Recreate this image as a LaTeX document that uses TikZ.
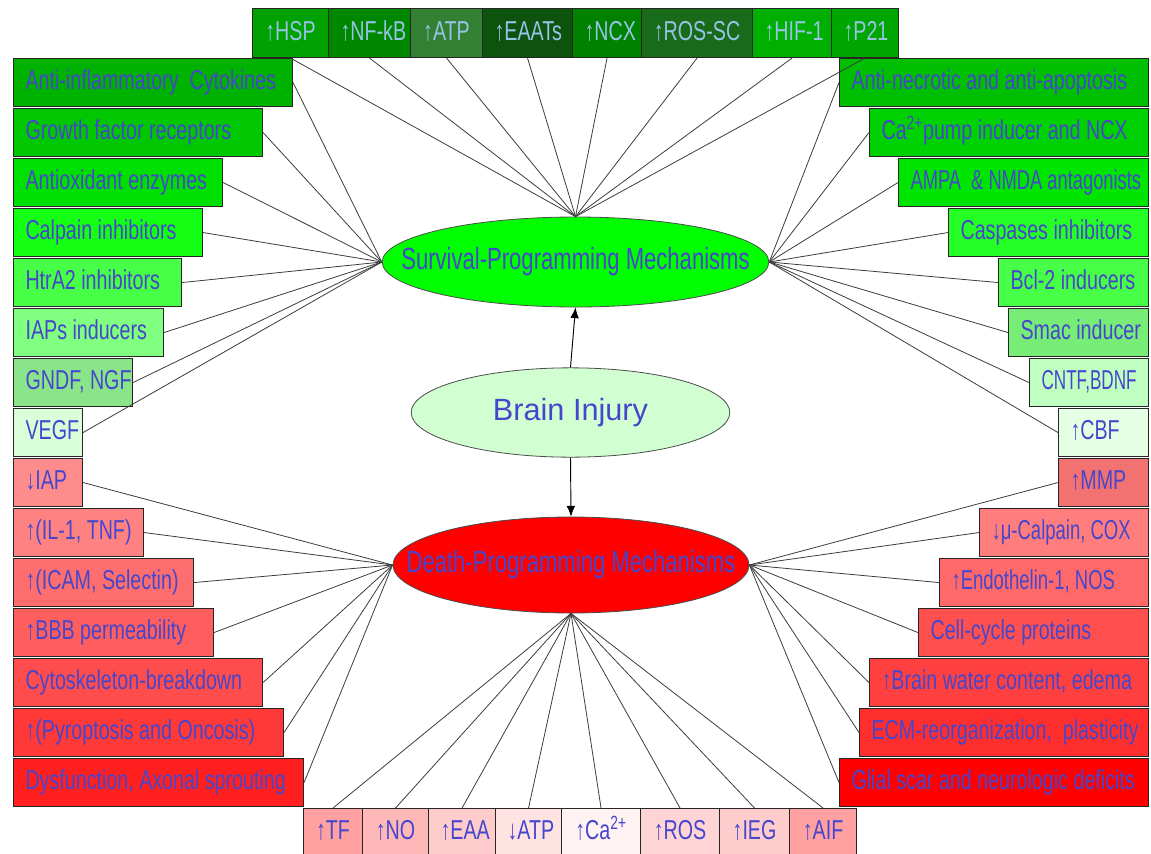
\documentclass[tikz,border=0pt]{standalone}
\usepackage{graphicx}
\usepackage{fontspec}
\setmainfont{Liberation Sans}
\newfontfamily\narrowfont{Liberation Sans}[FakeStretch=0.72]
\usetikzlibrary{shapes.geometric,arrows.meta}

\definecolor{txtblue}{RGB}{70,70,205}
\definecolor{topblue}{RGB}{150,195,230}
\definecolor{spokegray}{RGB}{60,60,60}

\tikzset{
  item/.style={draw=black!85, line width=0.8pt, anchor=north west,
    inner xsep=9pt, inner ysep=0pt, text height=15pt, text depth=4pt,
    font=\narrowfont\fontsize{20.5}{22}\selectfont, text=txtblue},
  mech/.style={ellipse, draw=black!70, line width=0.6pt, inner sep=0pt,
    font=\narrowfont\fontsize{23}{25}\selectfont, text=txtblue},
  spoke/.style={draw=spokegray, line width=0.6pt},
  cause/.style={draw=black, line width=0.7pt, -{Latex[length=8pt,width=6.5pt]}},
}

% narrower setting for capital-heavy labels
\newcommand{\sq}[2]{\scalebox{#1}[1]{#2}}

% box from top-left (#3,#4) to bottom-right (#5,#6), pixel units
\newcommand{\itembox}[8][left]{%
  \pgfmathsetmacro{\bw}{((#5)-(#3))*0.75}%
  \pgfmathsetmacro{\bh}{((#6)-(#4))*0.75}%
  \pgfmathsetmacro{\tw}{((#5)-(#3))*0.75-18}%
  \node[item, fill=#7, align=#1, text width=\tw pt, minimum width=\bw pt,
        minimum height=\bh pt] (#2) at (#3,#4) {\spaceskip=0pt\xspaceskip=0pt\mbox{#8}};}

\begin{document}
\begin{tikzpicture}[x=0.75pt,y=-0.75pt]
\useasboundingbox (0,0) rectangle (1151,853);

% the three mechanisms
\node[mech, fill=green, minimum width=290pt, minimum height=67.5pt] (surv) at (575.5,262)
  {\makebox[0pt]{Survival-Programming Mechanisms}};
\node[mech, fill=green!18!white, minimum width=239pt, minimum height=67pt,
  font=\fontsize{23}{25}\selectfont] (brain) at (570.5,412.5) {\makebox[0pt]{Brain Injury}};
\node[mech, fill=red, minimum width=267pt, minimum height=72pt] (death) at (571,565)
  {\makebox[0pt]{Death-Programming Mechanisms}};

\draw[cause] (brain.north) -- (surv.south);
\draw[cause] (brain.south) -- (death.north);

% top row
\foreach \a/\b/\c/\s [count=\i] in {252/328/{green!63!black}/HSP, 328/410/{green!53!black}/NF-kB,
  410/482/{green!50!black!60!gray}/ATP, 482/572/{green!30!black!90!gray}/EAATs,
  572/641/{green!51!black}/NCX, 641/752/{green!40!black!80!gray}/ROS-SC,
  752/831/{green!69!black}/HIF-1, 831/898/{green!65!black}/P21}
  \itembox[center]{T\i}{\a}{8}{\b}{57}{\c}{\textcolor{topblue}{↑\s}};

% bottom row
\foreach \a/\b/\c/\s [count=\i] in {303/362/{red!37!white}/↑TF, 362/428/{red!28!white}/↑NO,
  428/495/{red!20!white}/↑EAA, 495/561/{red!11!white}/↓ATP,
  561/640/{red!5!white}/{↑Ca\textsuperscript{2+}}, 640/719/{red!17!white}/↑ROS,
  719/789/{red!20!white}/↑IEG, 789/856/{red!37!white}/↑AIF}
  \itembox[center]{B\i}{\a}{808}{\b}{856}{\c}{\s};

% left column
\foreach \r/\c/\s [count=\n from 0] in {
  292/{green!70!black}/{Anti-inflammatory\ \ Cytokines},
  262/{green!78!black}/{Growth factor receptors},
  222/{green!88!black}/{Antioxidant enzymes},
  202/{green!92!white}/{Calpain inhibitors},
  181/{green!72!white}/{HtrA2 inhibitors},
  163/{green!50!white}/{IAPs inducers},
  132/{green!40!white!90!black}/{GNDF, NGF},
  82/{green!15!white}/{VEGF},
  82/{red!45!white}/{↓IAP},
  143/{red!49!white}/{↑(IL-1, TNF)},
  193/{red!57!white}/{↑(ICAM, Selectin)},
  213/{red!63!white}/{↑BBB permeability},
  262/{red!70!white}/{Cytoskeleton-breakdown},
  283/{red!78!white}/{↑(Pyroptosis and Oncosis)},
  303/{red!88!white}/{Dysfunction, Axonal sprouting}}
  \itembox{L\n}{13}{58+50*\n}{\r}{106+50*\n}{\c}{\s};

% right column
\foreach \l/\c/\s [count=\n from 0] in {
  839/{green!75!black}/{Anti-necrotic and anti-apoptosis},
  869/{green!82!black}/{Ca\textsuperscript{2+}pump inducer and NCX},
  898/{green!90!black}/{\sq{0.93}{AMPA\ \ \& NMDA antagonists}},
  948/{green!85!white}/{Caspases inhibitors},
  998/{green!72!white}/{Bcl-2 inducers},
  1008/{green!50!white!93!black}/{Smac inducer},
  1029/{green!25!white}/{\sq{0.87}{CNTF,BDNF}},
  1058/{green!10!white}/{↑CBF},
  1058/{red!53!white!95!black}/{↑MMP},
  979/{red!51!white}/{\sq{0.94}{↓μ-Calpain, COX}},
  939/{red!59!white}/{\sq{0.94}{↑Endothelin-1, NOS}},
  918/{red!69!white}/{Cell-cycle proteins},
  869/{red!75!white}/{↑Brain water content, edema},
  859/{red!82!white}/{ECM-reorganization,\ \ plasticity},
  839/{red}/{Glial scar and neurologic deficits}}
  \itembox{R\n}{\l}{58+50*\n}{1148}{106+50*\n}{\c}{\s};

% spokes
\foreach \n in {0,...,7} {
  \draw[spoke] (L\n.east) -- (surv.west);
  \draw[spoke] (R\n.west) -- (surv.east);
}
\foreach \n in {8,...,14} {
  \draw[spoke] (L\n.east) -- (death.west);
  \draw[spoke] (R\n.west) -- (death.east);
}
\foreach \i in {1,...,8} {
  \draw[spoke] (T\i.south) -- (surv.north);
  \draw[spoke] (B\i.north) -- (death.south);
}
\end{tikzpicture}
\end{document}
